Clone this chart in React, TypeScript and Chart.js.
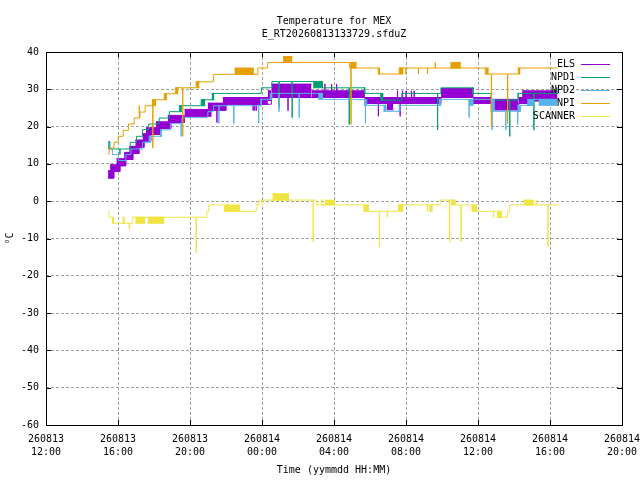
import React, { useEffect, useRef } from "react";
import { Chart, registerables } from "chart.js";

Chart.register(...registerables);

// time is in hours counted from 260813 00:00, values in degC
const seriesNames = ["ELS", "NPD1", "NPD2", "NPI", "SCANNER"];
const seriesColors = ["#9400d3", "#009e73", "#56b4e9", "#e69f00", "#f0e442"];
const titleLines = ["Temperature for MEX", "E_RT20260813133729.sfduZ"];

// [time, value] where the value changes
const elsSteps = [
  [15.45, 6.2], [15.78, 8.0], [16.12, 9.5], [16.44, 11.2], [16.84, 12.8], [17.18, 14.5],
  [17.46, 16.1], [17.83, 17.9], [18.39, 19.5], [18.95, 21.1], [19.69, 22.8], [21.17, 24.4],
  [22.01, 26.0], [24.52, 27.8], [29.72, 26.2], [33.94, 27.8], [35.76, 26.2], [36.78, 24.5],
  [38.26, 26.2], [38.92, 26.9], [40.42, 26.9],
];
// [from, to, low, high] where the reading flickers between two values
const elsBands = [
  [15.45, 15.78, 6.2, 8.2], [15.56, 16.12, 8.0, 9.8], [15.91, 16.44, 9.5, 11.4],
  [16.34, 16.84, 11.2, 13.1], [16.62, 17.18, 12.8, 14.7], [16.96, 17.46, 14.5, 16.4],
  [17.36, 17.83, 16.1, 18.1], [17.55, 18.39, 17.9, 19.7], [18.11, 18.95, 19.5, 21.3],
  [18.76, 19.69, 21.1, 23.0], [19.69, 21.17, 22.8, 24.6], [20.99, 22.01, 24.4, 26.3],
  [21.82, 24.33, 26.0, 27.8], [24.33, 24.52, 27.0, 29.6], [24.52, 26.75, 27.8, 31.4],
  [26.75, 29.72, 27.8, 29.6], [29.72, 33.94, 26.2, 27.8], [30.93, 31.3, 24.5, 26.2],
  [33.94, 35.76, 27.8, 30.2], [35.76, 36.78, 26.2, 27.8], [36.78, 38.26, 24.5, 27.3],
  [38.26, 38.92, 26.2, 27.8], [38.45, 40.42, 26.9, 29.6],
];
// single odd samples [time, value]
const elsSpikes = [
  [21.49, 21.1], [23.5, 24.3], [23.59, 24.3], [23.68, 24.3], [24.9, 29.2], [25.44, 24.3],
  [27.49, 31.4], [27.86, 31.4], [28.14, 31.4], [30.46, 22.8], [31.52, 29.6], [31.67, 22.8],
  [31.8, 29.6], [32.0, 29.6], [32.3, 29.6], [32.45, 29.6], [36.74, 24.0],
];

const npd1Steps = [
  [15.45, 16.0], [15.55, 14.0], [16.68, 15.8], [17.03, 17.4], [17.36, 19.2], [17.7, 20.7],
  [18.29, 22.3], [18.85, 24.0], [19.41, 25.6], [20.62, 27.2], [21.26, 28.9], [23.96, 30.4],
  [24.55, 32.1], [27.36, 30.4], [29.72, 28.9], [30.71, 27.1], [31.77, 28.9], [33.94, 30.4],
  [35.72, 28.9], [36.73, 27.1], [38.25, 28.9], [40.42, 28.9],
];
const npd1Bands = [
  [15.45, 15.55, 14.0, 16.0], [19.41, 19.55, 24.0, 25.6], [20.62, 20.85, 25.6, 27.2],
  [21.2, 21.35, 27.2, 28.9], [26.84, 27.36, 30.4, 32.1], [29.66, 29.74, 28.9, 30.4],
  [30.56, 30.74, 27.1, 28.9], [35.67, 35.76, 28.9, 30.4], [38.18, 38.26, 27.1, 28.9],
  [40.3, 40.42, 28.9, 30.4],
];
const npd1Spikes = [
  [16.1, 12.5], [24.94, 25.1], [25.67, 22.4], [28.84, 20.6], [33.75, 19.1], [37.76, 17.4],
  [39.1, 19.1],
];

const npd2Steps = [
  [15.45, 16.0], [15.5, 14.0], [15.69, 12.5], [16.02, 10.9], [16.44, 12.5], [16.72, 14.0],
  [17.36, 15.8], [17.74, 17.4], [18.39, 19.1], [18.91, 20.8], [19.56, 22.4], [20.99, 24.0],
  [21.3, 25.6], [23.96, 27.3], [24.55, 28.9], [27.36, 27.3], [29.82, 25.7], [30.89, 24.1],
  [31.67, 25.7], [33.94, 27.3], [36.91, 24.1], [38.36, 25.7], [39.1, 27.3], [40.42, 27.3],
];
const npd2Bands = [
  [17.7, 17.85, 15.8, 17.4], [18.33, 18.45, 17.4, 19.1], [23.9, 24.0, 25.6, 27.3],
  [24.42, 24.55, 27.3, 28.9], [27.12, 27.36, 27.3, 28.9], [29.66, 29.82, 25.7, 27.3],
  [30.74, 30.89, 24.1, 25.7], [31.58, 31.67, 24.1, 25.7], [33.81, 33.94, 25.7, 27.3],
  [35.48, 35.76, 25.7, 27.3], [36.69, 36.91, 24.1, 27.3], [38.18, 38.36, 24.1, 25.7],
  [38.73, 39.1, 25.7, 27.3], [39.36, 40.42, 25.7, 27.3],
];
const npd2Spikes = [
  [19.5, 17.4], [21.6, 20.8], [22.43, 20.8], [23.81, 20.9], [24.94, 24.0], [26.06, 22.4],
  [29.74, 20.9], [35.5, 22.4], [36.78, 19.1], [37.54, 19.1], [38.2, 20.6],
];

const npiSteps = [
  [15.45, 12.7], [15.51, 14.3], [15.78, 15.8], [16.01, 17.4], [16.29, 19.0], [16.58, 20.7],
  [16.9, 22.3], [17.22, 23.9], [17.51, 25.6], [17.92, 27.2], [18.57, 28.8], [19.19, 30.4],
  [20.34, 32.0], [21.3, 34.0], [23.77, 35.7], [24.31, 37.2], [28.88, 35.7], [30.46, 34.1],
  [31.62, 35.7], [36.41, 34.1], [38.25, 35.7], [40.42, 35.7],
];
const npiBands = [
  [17.92, 18.11, 25.6, 27.2], [18.57, 18.72, 27.2, 28.8], [19.19, 19.36, 28.8, 30.4],
  [20.34, 20.53, 30.4, 32.0], [22.47, 23.55, 34.0, 35.7], [25.17, 25.69, 37.2, 38.8],
  [28.88, 29.26, 35.7, 37.2], [30.46, 30.56, 34.1, 35.7], [31.62, 31.86, 34.1, 35.7],
  [34.46, 35.05, 35.7, 37.2], [36.41, 36.6, 34.1, 35.7], [38.2, 38.36, 34.1, 35.7],
];
const npiSpikes = [
  [17.18, 25.6], [17.93, 14.3], [19.59, 17.4], [28.94, 20.6], [31.99, 34.1], [32.69, 34.1],
  [33.19, 34.1], [33.62, 37.2], [36.74, 20.1], [37.64, 20.9],
];

const scannerSteps = [
  [15.45, -2.7], [15.5, -4.3], [15.69, -5.9], [16.8, -4.3], [20.93, -2.7], [21.04, -1.0],
  [21.92, -2.7], [23.68, -1.0], [23.83, 0.3], [27.03, -1.0], [29.66, -2.7], [31.58, -1.0],
  [33.9, 0.3], [34.74, -1.0], [35.67, -2.7], [37.09, -4.3], [37.65, -2.7], [37.76, -1.0],
  [40.49, -1.0],
];
const scannerBands = [
  [15.69, 15.78, -5.9, -4.3], [16.25, 16.38, -5.9, -4.3], [16.96, 17.51, -5.9, -4.3],
  [17.64, 18.57, -5.9, -4.3], [21.92, 22.79, -2.7, -1.0], [24.58, 25.5, 0.3, 2.0],
  [27.27, 27.36, -1.0, 0.3], [27.49, 28.05, -1.0, 0.3], [29.66, 29.94, -2.7, -1.0],
  [31.58, 31.86, -2.7, -1.0], [33.29, 33.49, -2.7, -1.0], [34.5, 34.74, -1.0, 0.3],
  [35.67, 35.95, -2.7, -1.0], [37.09, 37.34, -4.3, -2.7], [38.54, 39.1, -1.0, 0.3],
];
const scannerSpikes = [
  [16.62, -7.5], [20.34, -13.8], [24.02, -1.0], [26.84, -10.9], [30.52, -12.2], [30.96, -4.3],
  [33.19, -2.7], [34.42, -10.9], [35.05, -10.9], [36.85, -4.3], [39.23, 0.3], [39.88, -12.2],
];

const seriesData = [
  { steps: elsSteps, bands: elsBands, spikes: elsSpikes },
  { steps: npd1Steps, bands: npd1Bands, spikes: npd1Spikes },
  { steps: npd2Steps, bands: npd2Bands, spikes: npd2Spikes },
  { steps: npiSteps, bands: npiBands, spikes: npiSpikes },
  { steps: scannerSteps, bands: scannerBands, spikes: scannerSpikes },
];

const FONT = "'DejaVu Sans Mono', monospace";

function stepPoints(steps: number[][], spikes: number[][]) {
  const valueAt = (t: number) => {
    let v = steps[0][1];
    for (const [st, sv] of steps) if (st <= t) v = sv;
    return v;
  };
  const pts = steps.map(([x, y]) => ({ x, y }));
  for (const [t, v] of spikes) {
    pts.push({ x: t, y: v });
    pts.push({ x: t + 0.012, y: valueAt(t) });
  }
  return pts.sort((a, b) => a.x - b.x);
}

// split bands into lanes that do not overlap, so each lane is one sorted dataset
function bandLanes(bands: number[][]) {
  const lanes: any[] = [];
  [...bands].sort((a, b) => a[0] - b[0]).forEach(([t0, t1, lo, hi]) => {
    let lane = lanes.find((l) => l.end < t0);
    if (!lane) {
      lane = { lo: [], hi: [], end: -Infinity };
      lanes.push(lane);
    }
    if (lane.lo.length) {
      const gap = { x: (lane.end + t0) / 2, y: null };
      lane.lo.push(gap);
      lane.hi.push({ ...gap });
    }
    lane.lo.push({ x: t0, y: lo }, { x: t1, y: lo });
    lane.hi.push({ x: t0, y: hi }, { x: t1, y: hi });
    lane.end = t1;
  });
  return lanes;
}

const framePlugin = {
  id: "frame",
  afterDatasetsDraw(chart: any) {
    const { ctx, chartArea: a, scales } = chart;
    ctx.save();
    ctx.strokeStyle = "#000";
    ctx.lineWidth = 1;
    ctx.strokeRect(Math.round(a.left) + 0.5, Math.round(a.top) + 0.5, Math.round(a.right - a.left), Math.round(a.bottom - a.top));
    ctx.beginPath();
    scales.x.ticks.forEach((t: any) => {
      const px = Math.round(scales.x.getPixelForValue(t.value)) + 0.5;
      ctx.moveTo(px, a.bottom);
      ctx.lineTo(px, a.bottom - 5);
      ctx.moveTo(px, a.top);
      ctx.lineTo(px, a.top + 5);
    });
    scales.y.ticks.forEach((t: any) => {
      const py = Math.round(scales.y.getPixelForValue(t.value)) + 0.5;
      ctx.moveTo(a.left, py);
      ctx.lineTo(a.left + 5, py);
      ctx.moveTo(a.right, py);
      ctx.lineTo(a.right - 5, py);
    });
    ctx.stroke();

    // key, inside the plot at the top right
    ctx.font = `10px ${FONT}`;
    ctx.textAlign = "right";
    ctx.textBaseline = "middle";
    seriesNames.forEach((name, i) => {
      const y = Math.round(a.top + 12 + i * 13);
      ctx.fillStyle = "#000";
      ctx.fillText(name, a.right - 47, y);
      ctx.strokeStyle = seriesColors[i];
      ctx.beginPath();
      ctx.moveTo(a.right - 41, y + 0.5);
      ctx.lineTo(a.right - 12, y + 0.5);
      ctx.stroke();
    });

    // title
    ctx.textAlign = "center";
    ctx.fillStyle = "#000";
    const cx = (a.left + a.right) / 2;
    titleLines.forEach((line, i) => ctx.fillText(line, cx, 21 + i * 13));
    ctx.restore();
  },
};

const App: React.FC = () => {
  const canvasRef = useRef<HTMLCanvasElement>(null);

  useEffect(() => {
    if (!canvasRef.current) return;
    Chart.defaults.font.family = FONT;
    Chart.defaults.font.size = 10;
    Chart.defaults.color = "#000";

    const datasets: any[] = [];
    seriesData.forEach((s, i) => {
      const color = seriesColors[i];
      const order = 10 - i; // ELS at the bottom, SCANNER on top
      datasets.push({
        label: seriesNames[i],
        data: stepPoints(s.steps, s.spikes),
        borderColor: color,
        borderWidth: 1,
        stepped: true,
        fill: false,
        order,
      });
      bandLanes(s.bands).forEach((lane) => {
        datasets.push({ data: lane.lo, borderColor: color, borderWidth: 1, fill: false, order });
        datasets.push({
          data: lane.hi,
          borderColor: color,
          backgroundColor: color,
          borderWidth: 1,
          fill: "-1",
          order,
        });
      });
    });

    const chart = new Chart(canvasRef.current, {
      type: "line",
      data: { datasets },
      options: {
        animation: false,
        responsive: true,
        maintainAspectRatio: false,
        events: [],
        layout: { padding: { top: 52, right: 18, left: 0, bottom: 0 } },
        elements: { point: { radius: 0 }, line: { tension: 0 } },
        plugins: { legend: { display: false }, tooltip: { enabled: false } },
        scales: {
          x: {
            type: "linear",
            min: 12,
            max: 44,
            ticks: {
              stepSize: 4,
              padding: 8,
              maxRotation: 0,
              autoSkip: false,
              font: { size: 10, lineHeight: 1.3 },
              callback: (v: any) => {
                const day = v >= 24 ? "260814" : "260813";
                return [day, String(v % 24).padStart(2, "0") + ":00"];
              },
            },
            grid: { color: "#a0a0a0", drawTicks: false },
            border: { display: false, dash: [3, 2] },
            title: { display: true, text: "Time (yymmdd HH:MM)", padding: { top: 4, bottom: 4 } },
            afterFit: (scale: any) => {
              scale.height = 55;
              scale.paddingLeft = 0;
              scale.paddingRight = 0;
            },
          },
          y: {
            min: -60,
            max: 40,
            ticks: { stepSize: 10, padding: 7 },
            grid: { color: "#a0a0a0", drawTicks: false },
            border: { display: false, dash: [3, 2] },
            title: { display: true, text: "°C", padding: { top: 4, bottom: 4 } },
            afterFit: (scale: any) => {
              scale.width = 46;
            },
          },
        },
      },
      plugins: [framePlugin],
    });

    return () => chart.destroy();
  }, []);

  return (
    <div style={{ position: "fixed", left: 0, top: 0, width: 640, height: 480, background: "#fff" }}>
      <canvas ref={canvasRef} />
    </div>
  );
};

export default App;
